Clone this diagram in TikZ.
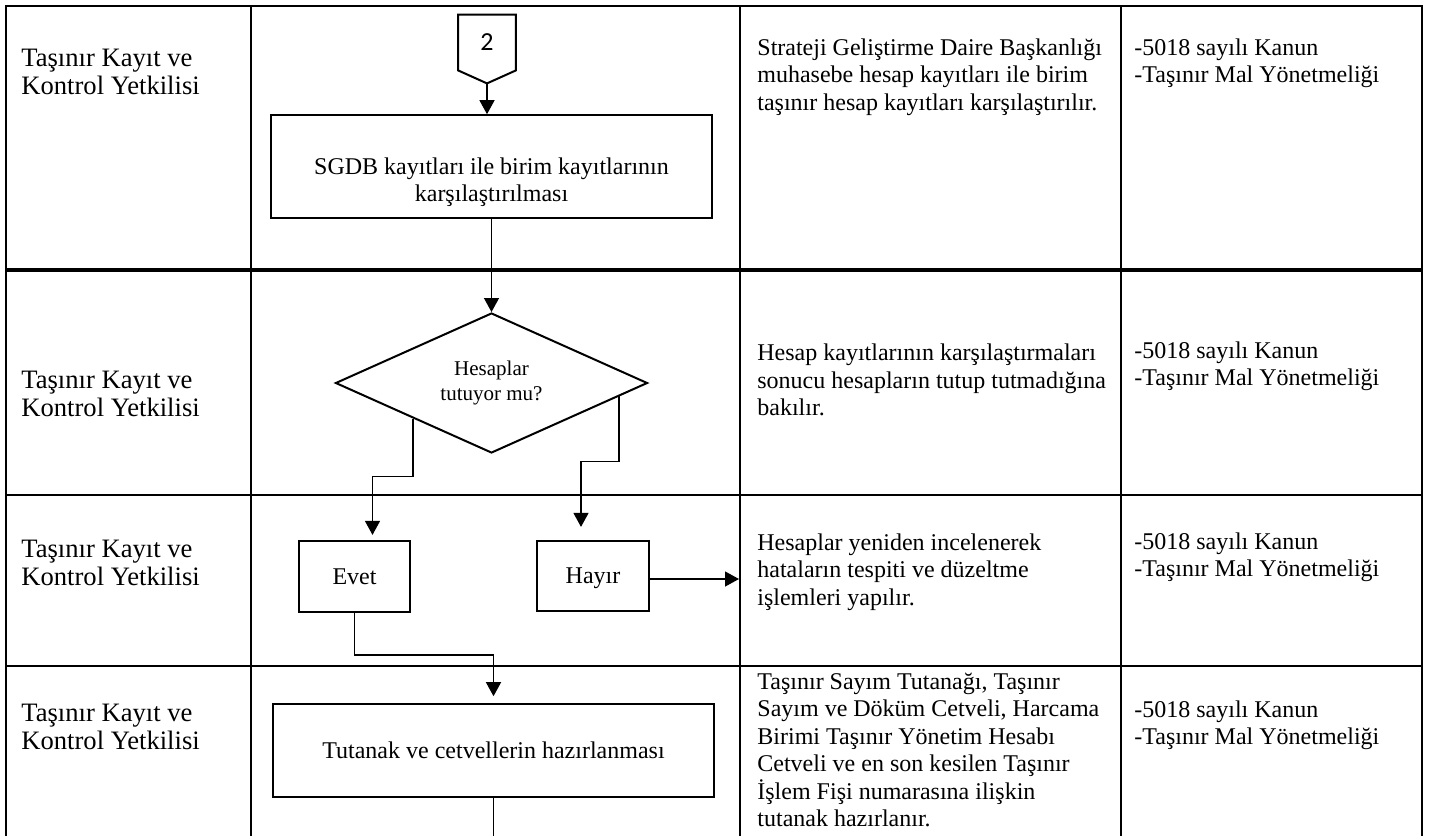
\documentclass[tikz,border=0pt]{standalone}
\usepackage{fontspec}
\setmainfont{Liberation Serif}
\newfontfamily\connfont{Carlito}
\usepackage{tikz}
\usetikzlibrary{shapes.geometric, arrows.meta, positioning}

\tikzset{
    tline/.style={line width=1.4pt},
    flowbox/.style={draw, line width=0.8pt, align=center, inner sep=0pt},
    flow/.style={line width=0.65pt, -{Triangle[length=7pt,width=7.5pt]}},
    celltxt/.style={anchor=west, align=left, inner sep=0pt, font=\fontsize{12}{13.7}\selectfont},
    roltxt/.style={celltxt, font=\fontsize{13.3}{13.8}\selectfont},
}

\begin{document}
\begin{tikzpicture}[x=0.5pt, y=-0.5pt]
    \useasboundingbox (0,0) rectangle (1430,836);

    % Table lines
    \draw[tline] (6,836) -- (6,6) -- (1422,6) -- (1422,836);
    \draw[tline] (251,6) -- (251,836);
    \draw[tline] (740,6) -- (740,836);
    \draw[tline] (1121,6) -- (1121,836);
    \draw[line width=1.9pt] (6,270) -- (1422,270);
    \draw[tline] (6,495) -- (1422,495);
    \draw[tline] (6,666) -- (1422,666);

    % Roles
    \node[roltxt] (rol1) at (21,72) {Taşınır Kayıt ve\\Kontrol Yetkilisi};
    \node[roltxt] (rol2) at (21,394) {Taşınır Kayıt ve\\Kontrol Yetkilisi};
    \node[roltxt] (rol3) at (21,563) {Taşınır Kayıt ve\\Kontrol Yetkilisi};
    \node[roltxt] (rol4) at (21,727) {Taşınır Kayıt ve\\Kontrol Yetkilisi};

    % Descriptions
    \node[celltxt] (acik1) at (757,77) {Strateji Geliştirme Daire Başkanlığı\\muhasebe hesap kayıtları ile birim\\taşınır hesap kayıtları karşılaştırılır.};
    \node[celltxt] (acik2) at (757,380) {Hesap kayıtlarının karşılaştırmaları\\sonucu hesapların tutup tutmadığına\\bakılır.};
    \node[celltxt] (acik3) at (757,572) {Hesaplar yeniden incelenerek\\hataların tespiti ve düzeltme\\işlemleri yapılır.};
    \node[celltxt] (acik4) at (757,750) {Taşınır Sayım Tutanağı, Taşınır\\Sayım ve Döküm Cetveli, Harcama\\Birimi Taşınır Yönetim Hesabı\\Cetveli ve en son kesilen Taşınır\\İşlem Fişi numarasına ilişkin\\tutanak hazırlanır.};

    % Legislation
    \node[celltxt] (mev1) at (1134,63) {-5018 sayılı Kanun\\-Taşınır Mal Yönetmeliği};
    \node[celltxt] (mev2) at (1134,366) {-5018 sayılı Kanun\\-Taşınır Mal Yönetmeliği};
    \node[celltxt] (mev3) at (1134,557) {-5018 sayılı Kanun\\-Taşınır Mal Yönetmeliği};
    \node[celltxt] (mev4) at (1134,725) {-5018 sayılı Kanun\\-Taşınır Mal Yönetmeliği};

    % Off-page connector
    \node[minimum width=28.5pt, minimum height=27.5pt, inner sep=0pt, font=\connfont\fontsize{13}{15}\selectfont] (con2) at (487,42.5) {2};
    \coordinate (con2tip) at ([yshift=-6.5pt]con2.south);
    \draw[line width=1pt] (con2.north west) -- (con2.north east) -- (con2.south east) -- (con2tip) -- (con2.south west) -- cycle;

    % Flow nodes
    \node[flowbox, minimum width=220.5pt, minimum height=51.5pt] (sgdb) at (491.5,166.5) {};
    \node[celltxt, anchor=center, align=center] (sgdbtxt) at ([yshift=-7.75pt]sgdb.center) {SGDB kayıtları ile birim kayıtlarının\\karşılaştırılması};
    \node[flowbox, diamond, aspect=2.2, line width=1pt, minimum width=156pt, minimum height=70pt, font=\fontsize{10.5}{12.5}\selectfont] (dia) at (491.5,383) {Hesaplar\\tutuyor mu?};
    \node[flowbox, line width=1.1pt, minimum width=55.5pt, minimum height=35.5pt, font=\fontsize{12}{13.7}\selectfont] (evet) at (354.5,576.5) {Evet};
    \node[flowbox, line width=1.1pt, minimum width=56pt, minimum height=35pt, text depth=0pt, font=\fontsize{12}{13.7}\selectfont] (hayir) at (593,576) {Hayır};
    \node[flowbox, minimum width=220.5pt, minimum height=46.5pt, font=\fontsize{12}{13.7}\selectfont] (tut) at (493.5,750.5) {\raisebox{-3pt}{Tutanak ve cetvellerin hazırlanması}};
    \coordinate (hataTip) at (739,579);
    \coordinate (tutEnd) at (493.5,836);

    % Connectors
    \draw[flow] (con2tip) -- (con2tip |- sgdb.north);
    \draw[flow] (sgdb.south) -- (dia.north);
    \draw[flow, shorten >=2.5pt] (dia.south west) -- ++(0,58) -| ([xshift=9pt]evet.north);
    \draw[flow, shorten >=6.5pt] (dia.-6) -- ++(0,65) -| ([xshift=-6pt]hayir.north);
    \draw[flow] ([yshift=-1.5pt]hayir.east) -- (hataTip);
    \draw[flow, shorten >=3.5pt] (evet.south) -- ++(0,42) -| (tut.north);
    \draw[line width=0.65pt] (tut.south) -- (tutEnd);
\end{tikzpicture}
\end{document}
